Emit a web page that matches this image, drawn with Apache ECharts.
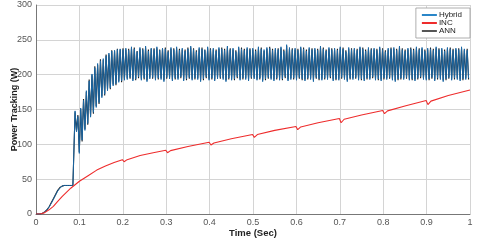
<!DOCTYPE html>
<html><head><meta charset="utf-8">
<script src="https://cdn.jsdelivr.net/npm/echarts@6/dist/echarts.min.js"></script>
<style>html,body{margin:0;padding:0;background:#fff}#c{width:480px;height:241px}</style>
</head><body><div id="c"></div>
<script>
// ---- data ----
const xTickLabels = ['0','0.1','0.2','0.3','0.4','0.5','0.6','0.7','0.8','0.9','1'];
const yTickLabels = ['0','50','100','150','200','250','300'];

// start-up part (before the oscillation)
const preTime   = [0,0.005,0.01,0.015,0.02,0.025,0.03,0.035,0.04,0.045,0.05,0.055,0.06,0.065,0.07,0.075,0.08,0.085,0.088];
const hybridPre = [0,0,0,1,3,6,10,15,21,27,33,37,40,41,41,41,41,41,42];
const annPre    = [0,0,0,1,3,6,10,16,22,28,34,38,40,41,41,41,41,41,42];

// oscillation: one peak and one trough per cycle
const oscStart = 0.090;
const oscPeriod = 0.0065;
const hybridPeaks = [148,140,152,163,177,191,201,210,216,220,223,227,231,234,235,236,237,236,
238,235,240,237,233,239,236,241,234,238,
236,240,235,238,237,233,239,236,240,235,
238,234,237,241,236,233,239,237,235,240,
236,238,234,239,237,235,241,236,238,233,
240,237,235,239,236,238,234,240,237,236,
239,238,235,238,236,240,234,243,239,236,
238,235,240,237,234,239,236,238,235,241,
237,234,239,236,238,235,240,237,233,239,
236,238,235,240,237,234,239,236,238,235,
240,236,233,238,237,239,235,241,236,234,
238,237,235,240,236,239,234,238,237,235,
240,236,238,234,239,237,235,238,236,240,
237,235];
const hybridTroughs = [118,87,106,120,130,139,146,153,160,167,172,177,181,184,187,189,191,192,
193,196,191,194,197,192,195,190,194,196,
192,195,193,190,196,194,191,195,193,197,
191,194,196,192,195,193,190,194,197,192,
195,191,194,196,193,190,195,192,194,197,
192,195,193,191,196,194,192,195,190,194,
196,193,191,195,192,194,197,191,193,195,
192,196,194,191,195,193,190,196,194,192,
195,193,197,191,194,192,196,193,190,195,
193,196,192,194,191,195,193,197,192,194,
191,195,193,196,192,190,194,195,193,196,
192,194,191,195,197,193,192,194,196,191,
195,193,190,194,196,192,195,193,191,194,
193,195];
const annPeaks = [146,142,150,165,175,193,199,212,214,222,221,229,229,235,234,237,236,238,
236,237,238,239,234,237,238,239,236,237,
238,238,236,237,239,235,237,238,238,237,
236,236,239,239,238,235,237,239,236,238,
238,236,236,237,239,237,239,238,236,235,
238,239,237,237,238,236,236,238,239,234,
237,240,237,236,238,238,236,241,237,238,
236,237,238,239,236,237,238,236,237,239,
239,236,237,238,236,237,238,239,235,237,
238,236,237,238,239,236,237,238,236,237,
238,238,235,236,239,237,237,239,238,236,
236,239,237,238,238,237,236,236,239,237,
238,238,236,236,237,239,237,236,238,238,
235,237];
const annTroughs = [120,89,104,122,128,141,144,155,158,169,170,179,179,186,185,191,189,194,
195,194,193,192,195,194,193,192,196,194,
194,193,195,192,194,196,193,193,195,195,
193,192,194,194,193,195,192,192,195,194,
193,193,196,194,195,192,193,194,192,195,
194,193,195,193,194,196,194,193,192,192,
194,195,193,193,194,192,195,193,195,193,
194,194,192,193,193,195,192,194,192,194,
193,195,195,193,192,194,194,195,192,193,
195,194,194,192,193,193,195,195,194,192,
193,193,195,194,194,192,192,193,195,194,
194,192,193,193,195,195,194,192,194,193,
193,195,192,192,194,194,193,195,193,192,
195,193];

// INC curve
const incTime  = [0,0.01,0.02,0.03,0.04,0.05,0.06,0.07,0.08,0.09,0.1,0.12,0.14,0.16,0.18,0.199,0.203,0.21,0.24,0.27,0.299,0.303,0.31,0.35,0.399,0.403,0.41,0.45,0.499,0.503,0.51,0.55,0.599,0.603,0.61,0.65,0.699,0.703,0.71,0.75,0.799,0.803,0.81,0.85,0.899,0.903,0.91,0.95,1.0];
const incPower = [0,0,2,6,11,18,25,31,37,42,47,55,63,69,74,78,75,78,84,88,91.5,88,91,97,103,99,102,108,114,110,114,120,125.5,121,125,131,137,131,136,142,148.5,144,148,155,163,157,162,170,178];

// ---- build series ----
function buildOsc(preT, preV, peaks, troughs) {
  const out = preT.map((t, i) => [t, preV[i]]);
  for (let k = 0; k < peaks.length; k++) {
    const tp = oscStart + k * oscPeriod;
    out.push([tp, peaks[k]]);
    out.push([tp + oscPeriod / 2, troughs[k]]);
  }
  return out.filter(p => p[0] <= 1);
}
const hybridData = buildOsc(preTime, hybridPre, hybridPeaks, hybridTroughs);
const annData = buildOsc(preTime, annPre, annPeaks, annTroughs);
const incData = incTime.map((t, i) => [t, incPower[i]]);

const chart = echarts.init(document.getElementById('c'), null, {renderer: 'canvas'});
const lab = {color: '#555', fontSize: 9, fontFamily: 'Liberation Sans, Arial, sans-serif'};
chart.setOption({
  animation: false,
  backgroundColor: '#fff',
  grid: {left: 36, right: 10, top: 5, bottom: 27, containLabel: false, outerBoundsMode: 'none'},
  legend: {
    data: ['Hybrid', 'INC', 'ANN'],
    orient: 'vertical', right: 10, top: 8,
    backgroundColor: '#fff', borderColor: '#999', borderWidth: 0.8,
    padding: [3, 8, 3, 6], itemGap: 0, itemWidth: 15, itemHeight: 2, icon: 'rect',
    textStyle: {fontSize: 8, color: '#222', fontFamily: 'Liberation Sans, Arial, sans-serif', padding: [0,0,0,-3]}
  },
  xAxis: {
    type: 'value', min: 0, max: 1, interval: 0.1,
    name: 'Time (Sec)', nameLocation: 'middle', nameGap: 14, nameMoveOverlap: false,
    nameTextStyle: {fontWeight: 'bold', fontSize: 9.5, color: '#222', fontFamily: 'Liberation Sans, Arial, sans-serif'},
    axisLine: {show: true, lineStyle: {color: '#777', width: 1}},
    axisTick: {show: false},
    axisLabel: Object.assign({}, lab, {margin: 4, formatter: v => xTickLabels[Math.round(v * 10)]}),
    splitLine: {show: true, lineStyle: {color: '#d4d4d4', width: 1}}
  },
  yAxis: {
    type: 'value', min: 0, max: 300, interval: 50,
    name: 'Power Tracking (W)', nameLocation: 'middle', nameGap: 17, nameMoveOverlap: false,
    nameTextStyle: {fontWeight: 'bold', fontSize: 9, color: '#222', fontFamily: 'Liberation Sans, Arial, sans-serif'},
    axisLine: {show: true, lineStyle: {color: '#777', width: 1}},
    axisTick: {show: false},
    axisLabel: Object.assign({}, lab, {margin: 4, formatter: v => yTickLabels[Math.round(v / 50)]}),
    splitLine: {show: true, lineStyle: {color: '#d4d4d4', width: 1}}
  },
  series: [
    {name: 'ANN', type: 'line', data: annData, showSymbol: false, symbol: 'none',
     lineStyle: {color: '#222', width: 1.1}, itemStyle: {color: '#555'}},
    {name: 'Hybrid', type: 'line', data: hybridData, showSymbol: false, symbol: 'none',
     lineStyle: {color: '#1a66a3', width: 1}, itemStyle: {color: '#2a86c8'}},
    {name: 'INC', type: 'line', data: incData, showSymbol: false, symbol: 'none',
     lineStyle: {color: '#ee2c2c', width: 1.1}, itemStyle: {color: '#ee2c2c'}}
  ]
});
</script>
</body></html>
